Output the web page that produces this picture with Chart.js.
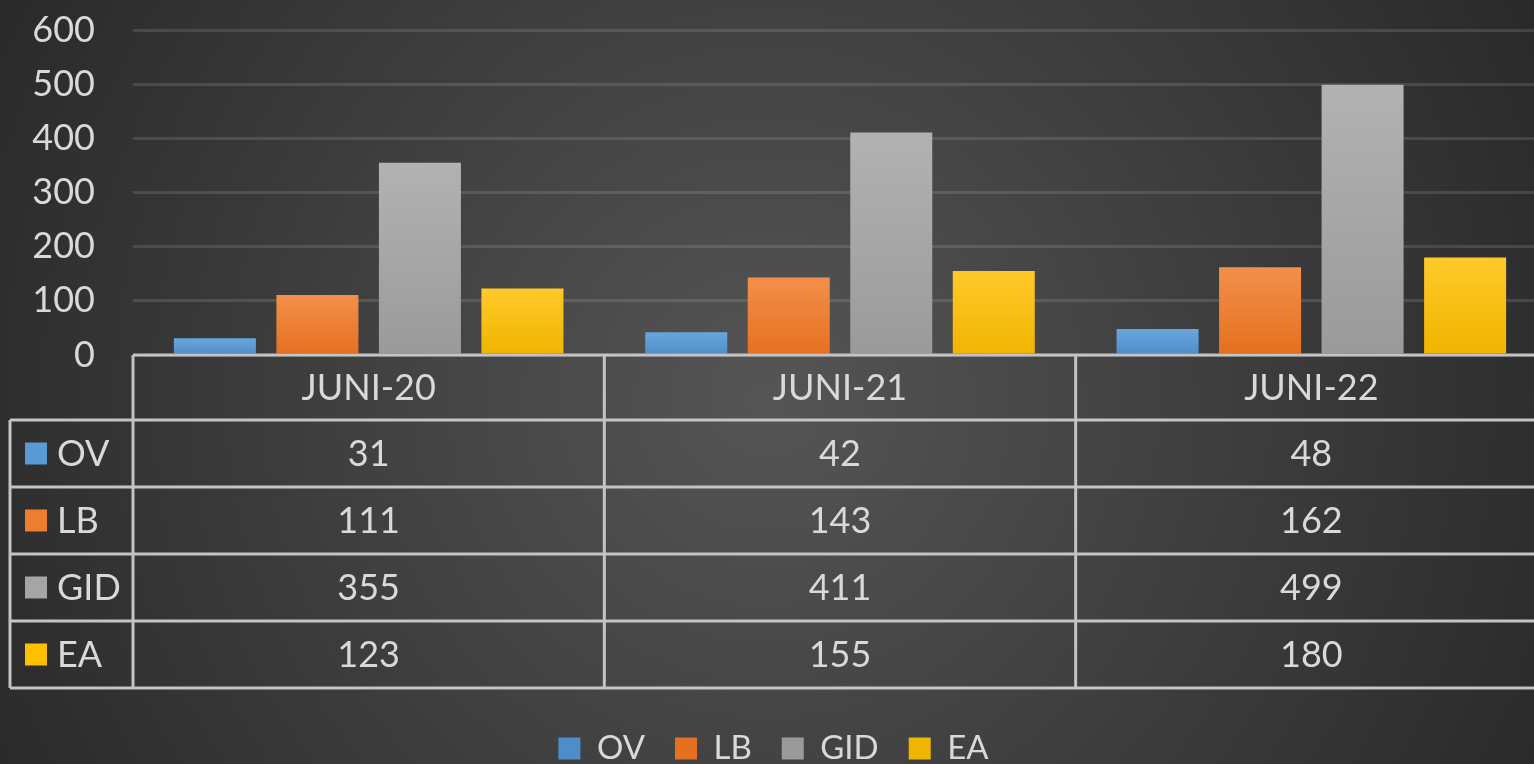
<!DOCTYPE html>
<html>
<head>
<meta charset="utf-8">
<script src="https://cdn.jsdelivr.net/npm/chart.js@4.4.0/dist/chart.umd.min.js"></script>
<style>
    html, body { margin: 0; padding: 0; overflow: hidden; background: #2a2a2a; }
    #wrap { width: 1547px; height: 775px; }
</style>
</head>
<body>
<div id="wrap"><canvas id="juniChart" width="1547" height="775"></canvas></div>
<script>
// ==============================
// Datos
// ==============================
const categorias = ['JUNI-20', 'JUNI-21', 'JUNI-22'];
const series = ['OV', 'LB', 'GID', 'EA'];
const valoresOV = [31, 42, 48];
const valoresLB = [111, 143, 162];
const valoresGID = [355, 411, 499];
const valoresEA = [123, 155, 180];
const ticksY = [0, 100, 200, 300, 400, 500, 600];

const colores = ['#5b9bd5', '#ed7d31', '#a5a5a5', '#ffc000'];
const coloresClaros = ['#6aa6dd', '#f38f4b', '#b2b2b2', '#ffc929'];
const coloresOscuros = ['#4f8dc9', '#e5701f', '#9a9a9a', '#f0b500'];

const FUENTE = 'Lato';
const TEXTO = '#d9d9d9';

// ==============================
// Degradado de cada barra
// ==============================
function degradado(i) {
    return (ctx) => {
        const chart = ctx.chart;
        if (!chart.chartArea || ctx.type !== 'data') return colores[i];
        const y = chart.scales.y;
        const top = y.getPixelForValue(ctx.raw);
        const base = y.getPixelForValue(0);
        const g = chart.ctx.createLinearGradient(0, top, 0, base);
        g.addColorStop(0, coloresClaros[i]);
        g.addColorStop(1, coloresOscuros[i]);
        return g;
    };
}

// ==============================
// Fondo radial
// ==============================
const fondo = {
    id: 'fondo',
    beforeDraw(chart) {
        const { ctx, width, height } = chart;
        const g = ctx.createRadialGradient(767, 400, 0, 767, 400, 950);
        g.addColorStop(0, '#555555');
        g.addColorStop(1, '#252525');
        ctx.save();
        ctx.fillStyle = g;
        ctx.fillRect(0, 0, width, height);
        ctx.restore();
    }
};

// ==============================
// Tabla de datos debajo del eje
// ==============================
const tablaDatos = {
    id: 'tablaDatos',
    afterDraw(chart) {
        const { ctx, chartArea, scales } = chart;
        const x = scales.x;
        const paso = x.getPixelForValue(1) - x.getPixelForValue(0);
        const izq = chartArea.left;
        const der = chartArea.right + 5;
        const filas = [65, 67, 67, 67, 67];
        const ys = [chartArea.bottom];
        filas.forEach(h => ys.push(ys[ys.length - 1] + h));

        const linea = (x1, y1, x2, y2) => {
            ctx.beginPath();
            ctx.moveTo(x1, y1);
            ctx.lineTo(x2, y2);
            ctx.stroke();
        };

        ctx.save();
        ctx.strokeStyle = '#c4c4c4';
        ctx.lineWidth = 3;
        linea(izq, ys[0], der, ys[0]);
        for (let r = 1; r < ys.length; r++) linea(10, ys[r], der, ys[r]);
        linea(10, ys[1], 10, ys[ys.length - 1]);
        for (let c = 0; c <= categorias.length; c++) {
            const xx = izq + c * paso;
            linea(xx, ys[0], xx, ys[ys.length - 1]);
        }

        ctx.fillStyle = TEXTO;
        ctx.font = '36px ' + FUENTE;
        ctx.textAlign = 'center';
        ctx.textBaseline = 'middle';
        categorias.forEach((cat, c) => {
            ctx.fillText(cat, x.getPixelForValue(c), (ys[0] + ys[1]) / 2 + 1);
        });

        chart.data.datasets.forEach((ds, s) => {
            const cy = (ys[s + 1] + ys[s + 2]) / 2 + 1;
            ctx.textAlign = 'center';
            ctx.fillStyle = TEXTO;
            ds.data.forEach((v, c) => {
                ctx.fillText(String(v), x.getPixelForValue(c), cy);
            });
            ctx.fillStyle = colores[s];
            ctx.fillRect(25, cy - 12, 22, 22);
            ctx.fillStyle = TEXTO;
            ctx.textAlign = 'left';
            ctx.fillText(ds.label, 57, cy);
        });
        ctx.restore();
    }
};

// ==============================
// Gráfico
// ==============================
const valores = [valoresOV, valoresLB, valoresGID, valoresEA];

new Chart(document.getElementById('juniChart'), {
    type: 'bar',
    data: {
        labels: categorias,
        datasets: series.map((nombre, i) => ({
            label: nombre,
            data: valores[i],
            backgroundColor: degradado(i),
            borderWidth: 0,
            categoryPercentage: 0.87,
            barPercentage: 0.8
        }))
    },
    options: {
        responsive: false,
        animation: false,
        layout: { padding: { top: 30, left: 0, right: 0, bottom: 0 } },
        scales: {
            x: {
                ticks: { display: false },
                grid: { display: false },
                border: { display: false },
                afterFit: (s) => { s.height = 347; }
            },
            y: {
                min: 0,
                max: 600,
                afterBuildTicks: (s) => { s.ticks = ticksY.map(v => ({ value: v })); },
                ticks: {
                    color: TEXTO,
                    font: { family: FUENTE, size: 36 },
                    padding: 38
                },
                grid: {
                    color: 'rgba(255,255,255,0.12)',
                    lineWidth: 3,
                    drawTicks: false
                },
                border: { display: false },
                afterFit: (s) => {
                    s.width = 133;
                    s.paddingTop = 0;
                    s.paddingBottom = 0;
                }
            }
        },
        plugins: {
            legend: {
                position: 'bottom',
                labels: {
                    color: TEXTO,
                    font: { family: FUENTE, size: 33 },
                    boxWidth: 22,
                    boxHeight: 22,
                    padding: 30
                }
            },
            tooltip: { enabled: false }
        }
    },
    plugins: [fondo, tablaDatos]
});
</script>
</body>
</html>
